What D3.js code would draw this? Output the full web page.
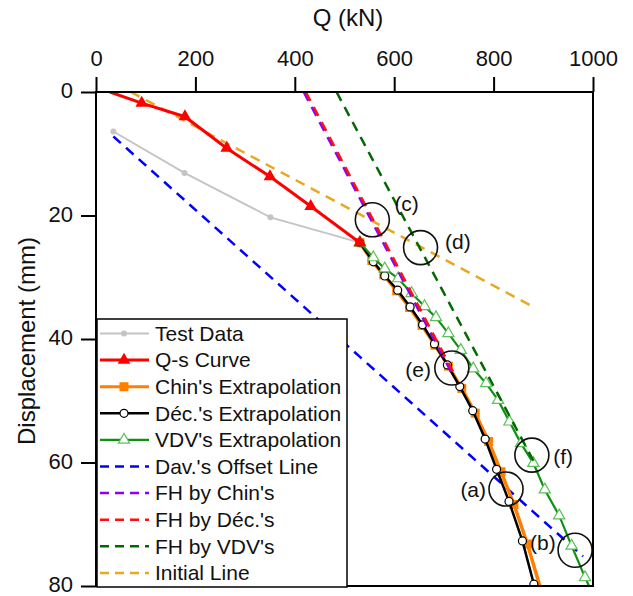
<!DOCTYPE html>
<html>
<head>
<meta charset="utf-8">
<script src="https://cdn.jsdelivr.net/npm/d3@7"></script>
<style>
  body { margin: 0; background: #fff; }
  text { font-family: "Liberation Sans", Arial, sans-serif; fill: #111; }
</style>
</head>
<body>
<div id="chart"></div>
<script>
// test data
var testQ = [35, 178, 351, 531];
var testD = [6.4, 13.1, 20.3, 24.4];

// Q-s curve
var qsQ = [28, 92, 179, 263, 350, 432, 531];
var qsD = [0, 1.8, 4.0, 9.1, 13.7, 18.5, 24.4];

// extrapolations
var chinQ = [531, 555, 579, 605, 631, 656, 682, 709, 736, 763, 790, 815, 841, 868, 893];
var chinD = [24.4, 27.3, 29.6, 32.2, 34.9, 37.8, 41.0, 44.4, 48.0, 52.0, 56.6, 61.5, 66.8, 73.2, 80];
var decQ = [531, 558, 581, 607, 632, 657, 681, 707, 732, 758, 783, 806, 831, 858, 881];
var decD = [24.4, 27.5, 29.8, 32.1, 34.8, 37.7, 40.8, 44.2, 47.7, 51.6, 56.2, 61.1, 66.3, 72.7, 79.7];
var vdvQ = [531, 558, 581, 608, 635, 661, 684, 709, 734, 759, 785, 809, 832, 855, 880, 903, 932, 957, 984, 992];
var vdvD = [24.4, 26.8, 28.6, 30.2, 32.6, 34.7, 36.5, 39.1, 41.8, 44.8, 47.2, 49.9, 53.4, 56.9, 60.1, 64.4, 68.6, 73.5, 78.6, 80];

// straight lines (end points)
var davQ = [35, 980],    davD = [7.2, 75.2];
var fhChinQ = [418, 719], fhChinD = [0, 46];
var fhDecQ = [422, 723],  fhDecD = [0, 46];
var fhVdvQ = [484, 882],  fhVdvD = [0, 60];
var initQ = [70, 880],    initD = [0, 34.8];

// circled points
var markLabels = ["(a)", "(b)", "(c)", "(d)", "(e)", "(f)"];
var markQ = [825, 964, 556, 653, 716, 877];
var markD = [64.3, 74.2, 20.7, 25.2, 44.7, 58.8];
var labelQ = [759, 899, 625, 728, 648, 940];
var labelD = [64.4, 73.0, 18.0, 24.2, 45.0, 59.1];

var xTicks = [0, 200, 400, 600, 800, 1000];
var yTicks = [0, 20, 40, 60, 80];

var width = 633,
    height = 596;

var x = d3.scaleLinear().domain([0, 1000]).range([96, 593]);
var y = d3.scaleLinear().domain([0, 80]).range([92, 586]);

var svg = d3.select("#chart").append("svg")
    .attr("width", width)
    .attr("height", height);

function zip(qs, ds) {
    return qs.map((q, i) => [q, ds[i]]);
}

var line = d3.line()
    .x(d => x(d[0]))
    .y(d => y(d[1]));

var series = [
    { name: "Test Data", pts: zip(testQ, testD), color: "#c4c4c4", w: 1.8, marker: "dot" },
    { name: "Dav.'s Offset Line", pts: zip(davQ, davD), color: "#0000ff", w: 2.5, dash: "10,7" },
    { name: "Initial Line", pts: zip(initQ, initD), color: "#e8a820", w: 2.5, dash: "10,7" },
    { name: "Chin's Extrapolation", pts: zip(chinQ, chinD), color: "#ff8000", w: 3.5, marker: "square" },
    { name: "Déc.'s Extrapolation", pts: zip(decQ, decD), color: "#000", w: 2.5, marker: "circle" },
    { name: "VDV's Extrapolation", pts: zip(vdvQ, vdvD), color: "#109010", w: 2.2, marker: "triangle" },
    { name: "Q-s Curve", pts: zip(qsQ, qsD), color: "#ff0000", w: 3, marker: "filledTri" },
    { name: "FH by Chin's", pts: zip(fhChinQ, fhChinD), color: "#8a00ff", w: 2.5, dash: "10,7" },
    { name: "FH by Déc.'s", pts: zip(fhDecQ, fhDecD), color: "#ff1010", w: 2.5, dash: "10,7" },
    { name: "FH by VDV's", pts: zip(fhVdvQ, fhVdvD), color: "#006a00", w: 2.5, dash: "10,7" }
];

var legendOrder = ["Test Data", "Q-s Curve", "Chin's Extrapolation", "Déc.'s Extrapolation",
    "VDV's Extrapolation", "Dav.'s Offset Line", "FH by Chin's", "FH by Déc.'s",
    "FH by VDV's", "Initial Line"];

svg.append("clipPath").attr("id", "clip")
    .append("rect")
    .attr("x", x(0)).attr("y", y(0))
    .attr("width", x(1000) - x(0)).attr("height", y(80) - y(0));

var plot = svg.append("g").attr("clip-path", "url(#clip)");

function drawMarker(g, type, px, py) {
    if (type === "dot") {
        g.append("circle").attr("cx", px).attr("cy", py).attr("r", 3)
            .attr("fill", "#c4c4c4");
    } else if (type === "square") {
        g.append("rect").attr("x", px - 4.5).attr("y", py - 4.5)
            .attr("width", 9).attr("height", 9).attr("fill", "#ff8000");
    } else if (type === "circle") {
        g.append("circle").attr("cx", px).attr("cy", py).attr("r", 4)
            .attr("fill", "#fff").attr("stroke", "#000").attr("stroke-width", 1.2);
    } else if (type === "triangle") {
        g.append("path").attr("transform", "translate(" + px + "," + py + ")")
            .attr("d", d3.symbol(d3.symbolTriangle, 55)())
            .attr("fill", "#fff").attr("stroke", "#5cc05c").attr("stroke-width", 1.2);
    } else if (type === "filledTri") {
        g.append("path").attr("transform", "translate(" + px + "," + py + ")")
            .attr("d", d3.symbol(d3.symbolTriangle, 70)())
            .attr("fill", "#ff0000");
    }
}

series.forEach(function(s) {
    plot.append("path")
        .attr("d", line(s.pts))
        .attr("fill", "none")
        .attr("stroke", s.color)
        .attr("stroke-width", s.w)
        .attr("stroke-dasharray", s.dash || null);
    if (s.marker) {
        var g = plot.append("g");
        s.pts.forEach(function(p, i) {
            if (s.marker === "filledTri" && i === 0) return;
            if (s.marker === "triangle" && i === s.pts.length - 1) return;
            if (s.marker === "square" && i === s.pts.length - 1) return;
            drawMarker(g, s.marker, x(p[0]), y(p[1]));
        });
    }
});

// circled points and labels
markLabels.forEach(function(lab, i) {
    svg.append("circle")
        .attr("cx", x(markQ[i])).attr("cy", y(markD[i])).attr("r", 17)
        .attr("fill", "none").attr("stroke", "#111").attr("stroke-width", 1.6);
    svg.append("text")
        .attr("x", x(labelQ[i])).attr("y", y(labelD[i]))
        .attr("dy", "0.35em")
        .attr("text-anchor", "middle")
        .style("font-size", "21px")
        .text(lab);
});

// frame
svg.append("rect")
    .attr("x", x(0)).attr("y", y(0))
    .attr("width", x(1000) - x(0)).attr("height", y(80) - y(0))
    .attr("fill", "none").attr("stroke", "#000").attr("stroke-width", 2);

// top axis
var xAxis = svg.append("g").attr("transform", "translate(0," + y(0) + ")");
xAxis.call(d3.axisTop(x).tickValues(d3.range(0, 1001, 100)).tickSize(7).tickFormat(""));
xAxis.call(d3.axisTop(x).tickValues(xTicks).tickSize(15).tickPadding(11).tickFormat(d3.format("d")));
xAxis.selectAll("path.domain").remove();
xAxis.selectAll("line").attr("stroke", "#000").attr("stroke-width", 2);
xAxis.selectAll("text").style("font-size", "22px").style("font-family", "Liberation Sans, Arial, sans-serif").attr("fill", "#111");

// left axis
var yAxis = svg.append("g").attr("transform", "translate(" + x(0) + ",0)");
yAxis.call(d3.axisLeft(y).tickValues(d3.range(0, 81, 10)).tickSize(7).tickFormat(""));
yAxis.call(d3.axisLeft(y).tickValues(yTicks).tickSize(15).tickPadding(8).tickFormat(d3.format("d")));
yAxis.selectAll("path.domain").remove();
yAxis.selectAll("line").attr("stroke", "#000").attr("stroke-width", 2);
yAxis.selectAll("text")
    .attr("dy", "0.25em")
    .style("font-size", "22px").style("font-family", "Liberation Sans, Arial, sans-serif").attr("fill", "#111");

// titles
svg.append("text")
    .attr("x", 348).attr("y", 26)
    .attr("text-anchor", "middle")
    .style("font-size", "24px")
    .text("Q (kN)");

svg.append("text")
    .attr("transform", "translate(35," + (y(40) + 2) + ") rotate(-90)")
    .attr("text-anchor", "middle")
    .style("font-size", "24px")
    .text("Displacement (mm)");

// legend
var lg = svg.append("g");
lg.append("rect")
    .attr("x", 97).attr("y", 319)
    .attr("width", 250).attr("height", 268)
    .attr("fill", "#fff").attr("stroke", "#000").attr("stroke-width", 1.5);

legendOrder.forEach(function(name, i) {
    var s = series.find(d => d.name === name);
    var ly = 333.5 + i * 26.6;
    lg.append("line")
        .attr("x1", 100).attr("x2", 149).attr("y1", ly).attr("y2", ly)
        .attr("stroke", s.color)
        .attr("stroke-width", s.dash ? 2.5 : Math.min(s.w, 3))
        .attr("stroke-dasharray", s.dash ? "9,6" : null);
    if (s.marker) drawMarker(lg, s.marker, 124, ly);
    lg.append("text")
        .attr("x", 155).attr("y", ly)
        .attr("dy", "0.35em")
        .style("font-size", "21px")
        .text(name);
});
</script>
</body>
</html>
